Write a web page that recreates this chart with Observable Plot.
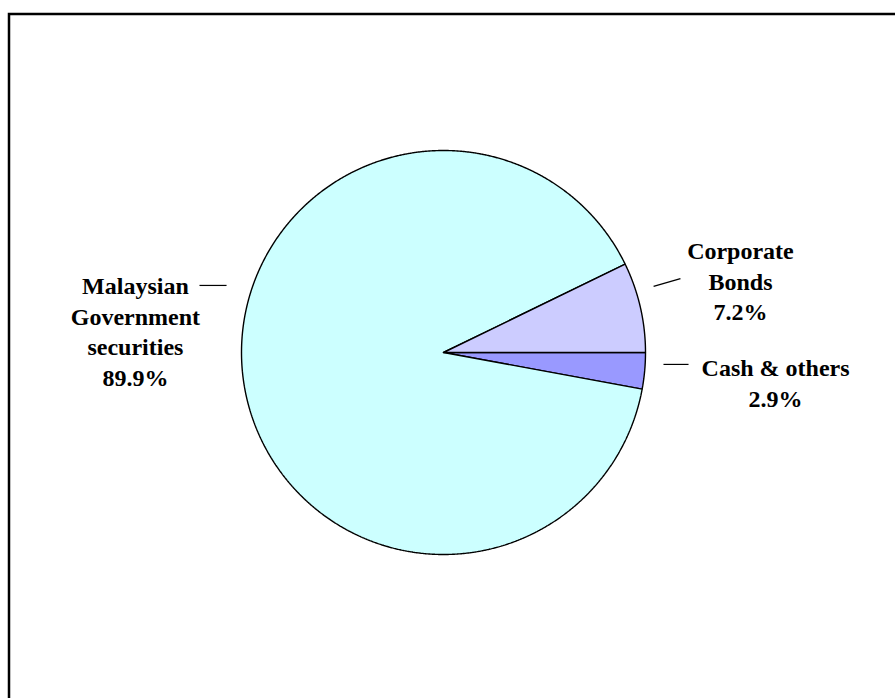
<!DOCTYPE html>
<html>
<head>
<meta charset="utf-8">
<script src="https://cdn.jsdelivr.net/npm/d3@7"></script>
<script src="https://cdn.jsdelivr.net/npm/@observablehq/plot@0.6"></script>
<style>
  html, body { margin: 0; padding: 0; background: #fff; overflow: hidden; }
</style>
</head>
<body>
<div id="chart"></div>
<script>
// ---- data ----
const categories = ["Cash & others", "Malaysian Government securities", "Corporate Bonds"];
const labelText = ["Cash & others", "Malaysian\nGovernment\nsecurities", "Corporate\nBonds"];
const values = [2.9, 89.9, 7.2];
const colors = ["#9999FF", "#CCFFFF", "#CCCCFF"];

// ---- layout (pie-radius units, centre at 0,0, y up) ----
const W = 895, H = 698, R = 202, CX = 443, CY = 352;
const labelPos = [
  {x: 1.644, y: -0.144},
  {x: -1.525, y: 0.110},
  {x: 1.470, y: 0.359}
];
const leaderPos = [
  {x1: 1.089, y1: -0.059, x2: 1.213, y2: -0.059},
  {x1: -1.208, y1: 0.332, x2: -1.074, y2: 0.332},
  {x1: 1.040, y1: 0.327, x2: 1.173, y2: 0.366}
];

const table = categories.map((c, i) => ({category: c, value: values[i], color: colors[i], label: labelText[i]}));

// pie angles: d3 convention (0 at 12 o'clock, clockwise); start at 3 o'clock
const arcs = d3.pie().value(d => d.value).sort(null)
  .startAngle(Math.PI / 2).endAngle(Math.PI / 2 + 2 * Math.PI)(table);

const step = Math.PI / 720;
const sliceMarks = arcs.map(a => {
  const pts = [{x: 0, y: 0}];
  const n = Math.max(2, Math.ceil((a.endAngle - a.startAngle) / step));
  for (let k = 0; k <= n; k++) {
    const t = a.startAngle + (a.endAngle - a.startAngle) * k / n;
    pts.push({x: Math.sin(t), y: Math.cos(t)});
  }
  pts.push({x: 0, y: 0});
  return Plot.line(pts, {x: "x", y: "y", fill: a.data.color, stroke: "black", strokeWidth: 1.4, strokeLinejoin: "miter"});
});

const labels = table.map((d, i) => ({
  x: labelPos[i].x, y: labelPos[i].y,
  text: d.label + "\n" + d.value.toFixed(1) + "%"
}));

const chart = Plot.plot({
  width: W, height: H,
  marginTop: 0, marginRight: 0, marginBottom: 0, marginLeft: 0,
  x: {domain: [(0 - CX) / R, (W - CX) / R], axis: null},
  y: {domain: [(CY - H) / R, CY / R], axis: null},
  style: {background: "white", fontFamily: "'Liberation Serif', 'Times New Roman', serif", overflow: "hidden"},
  marks: [
    Plot.frame({stroke: "black", strokeWidth: 2.5, insetLeft: 8.5, insetTop: 13.5, insetRight: -20, insetBottom: -20}),
    ...sliceMarks,
    Plot.link(leaderPos, {x1: "x1", y1: "y1", x2: "x2", y2: "y2", stroke: "black", strokeWidth: 1.2}),
    Plot.text(labels, {
      x: "x", y: "y", text: "text",
      textAnchor: "middle", lineAnchor: "middle", lineHeight: 1.27,
      fontSize: 24, fontWeight: "bold", fill: "black",
      fontFamily: "'Liberation Serif', 'Times New Roman', serif"
    })
  ]
});
document.getElementById("chart").appendChild(chart);
</script>
</body>
</html>
